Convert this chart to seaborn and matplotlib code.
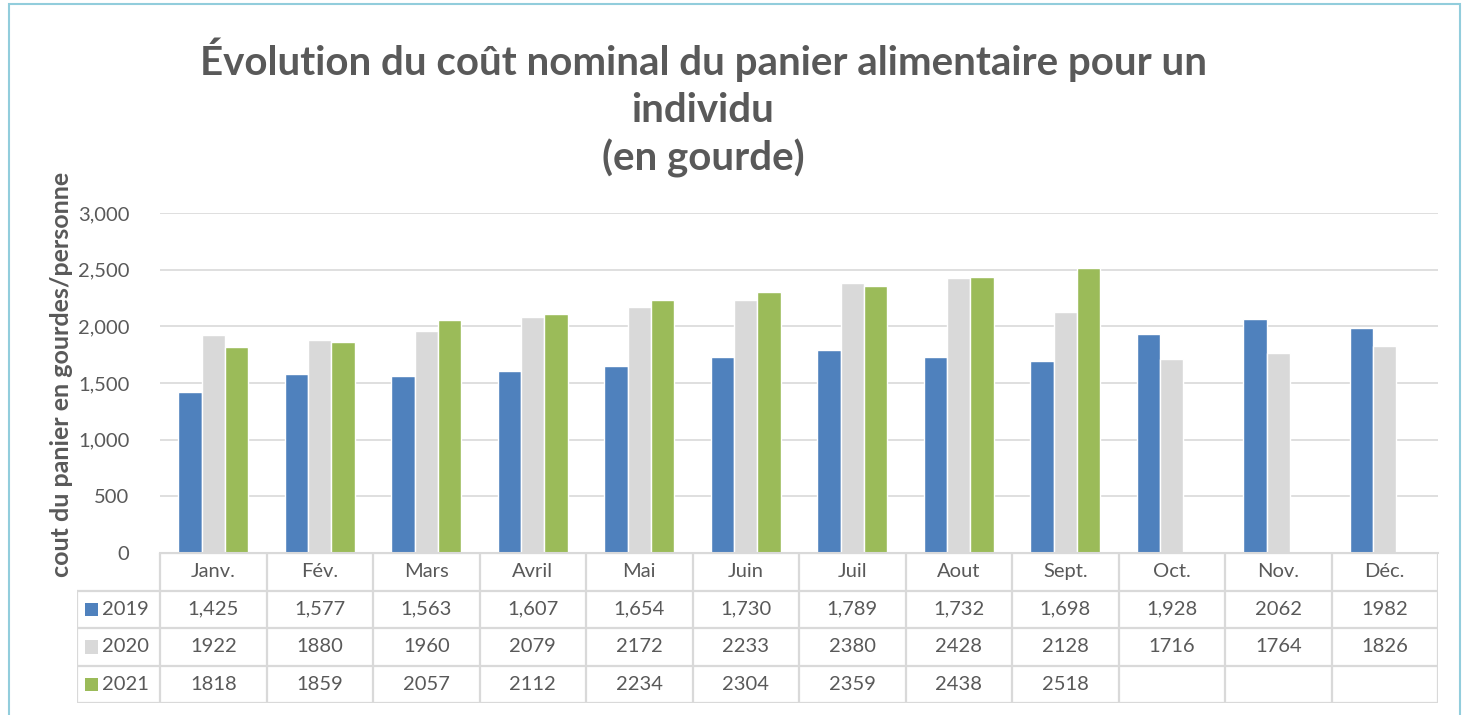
import numpy as np
import pandas as pd
import matplotlib
matplotlib.use("Agg")
import matplotlib.pyplot as plt
from matplotlib.patches import Rectangle
from matplotlib.lines import Line2D
import seaborn as sns

months = ["Janv.", "Fév.", "Mars", "Avril", "Mai", "Juin", "Juil", "Aout", "Sept.", "Oct.", "Nov.", "Déc."]
years = ["2019", "2020", "2021"]
v2019 = [1425, 1577, 1563, 1607, 1654, 1730, 1789, 1732, 1698, 1928, 2062, 1982]
v2020 = [1922, 1880, 1960, 2079, 2172, 2233, 2380, 2428, 2128, 1716, 1764, 1826]
v2021 = [1818, 1859, 2057, 2112, 2234, 2304, 2359, 2438, 2518, np.nan, np.nan, np.nan]
# text shown in the data table (as printed in the source)
t2019 = ["1,425", "1,577", "1,563", "1,607", "1,654", "1,730", "1,789", "1,732", "1,698", "1,928", "2062", "1982"]
t2020 = ["1922", "1880", "1960", "2079", "2172", "2233", "2380", "2428", "2128", "1716", "1764", "1826"]
t2021 = ["1818", "1859", "2057", "2112", "2234", "2304", "2359", "2438", "2518", "", "", ""]
colors = ["#4F81BD", "#D9D9D9", "#9BBB59"]
yticks = [0, 500, 1000, 1500, 2000, 2500, 3000]

sns.set_theme(style="white")
plt.rcParams["font.family"] = ["Lato", "DejaVu Sans"]
TXT = "#595959"
FS = 14.5

df = pd.DataFrame({
    "Mois": months * 3,
    "Année": sum([[y] * 12 for y in years], []),
    "Valeur": v2019 + v2020 + v2021,
})

W, H = 1470, 715
fig = plt.figure(figsize=(W / 100, H / 100), dpi=100)
fig.patch.set_facecolor("white")

L, R, B, T = 160, 1438, 553, 213
ax = fig.add_axes([L / W, 1 - B / H, (R - L) / W, (B - T) / H])
sns.barplot(data=df, x="Mois", y="Valeur", hue="Année", hue_order=years, order=months,
            palette=colors, width=0.66, errorbar=None, saturation=1, ax=ax, legend=False)
ax.set_xlim(-0.5, 11.5)
ax.set_ylim(0, 3000)
ax.set_yticks(yticks)
ax.set_yticklabels([f"{t:,}" for t in yticks], fontsize=FS, color=TXT)
ax.tick_params(axis="y", length=0, pad=22)
ax.set_xticks([])
ax.set_xlabel("")
ax.set_ylabel("cout du panier en gourdes/personne", fontsize=18, fontweight="bold",
              color=TXT)
ax.yaxis.set_label_coords(-(L - 73) / (R - L), (B - 374) / (B - T))
for s in ["left", "right", "top"]:
    ax.spines[s].set_visible(False)
ax.spines["bottom"].set_color("#D9D9D9")
ax.spines["bottom"].set_linewidth(1.5)
ax.grid(axis="y", color="#D9D9D9", linewidth=1.2)
ax.set_axisbelow(True)

# data table axes
TL, TB = 77, 703
cw = (R - L) / 12.0
x0 = -0.5 - (L - TL) / cw
tax = fig.add_axes([TL / W, 1 - TB / H, (R - TL) / W, (TB - B) / H])
tax.set_xlim(x0, 11.5)
tax.set_ylim(4, 0)
tax.axis("off")
gc = "#D9D9D9"
lw = 1.6
tax.add_line(Line2D([-0.5, 11.5], [0, 0], color=gc, lw=lw))
for r in [1, 2, 3, 4]:
    tax.add_line(Line2D([x0, 11.5], [r, r], color=gc, lw=lw))
tax.add_line(Line2D([x0, x0], [1, 4], color=gc, lw=lw))
for i in range(13):
    tax.add_line(Line2D([i - 0.5, i - 0.5], [0, 4], color=gc, lw=lw))
for i, m in enumerate(months):
    tax.text(i, 0.5, m, ha="center", va="center", fontsize=FS, color=TXT)
for r, (yr, texts, c) in enumerate(zip(years, [t2019, t2020, t2021], colors), start=1):
    tax.add_patch(Rectangle((x0 + 8 / cw, r + 0.5 - 0.18), 13 / cw, 0.36, color=c, lw=0))
    tax.text(x0 + 25 / cw, r + 0.5, yr, ha="left", va="center", fontsize=FS, color=TXT)
    for i, t in enumerate(texts):
        tax.text(i, r + 0.5, t, ha="center", va="center", fontsize=FS, color=TXT)

# title
fig.text(703 / W, 1 - 108 / H,
         "Évolution du coût nominal du panier alimentaire pour un\nindividu\n(en gourde)",
         ha="center", va="center", fontsize=29, fontweight="bold", color=TXT, linespacing=1.33)

# outer border
fig.add_artist(Rectangle((9 / W, -0.05), (1460 - 9) / W, 1.05 - 4 / H, transform=fig.transFigure,
                         fill=False, edgecolor="#92CDDC", lw=1.5))

fig.savefig("out.png", dpi=100, facecolor="white")
